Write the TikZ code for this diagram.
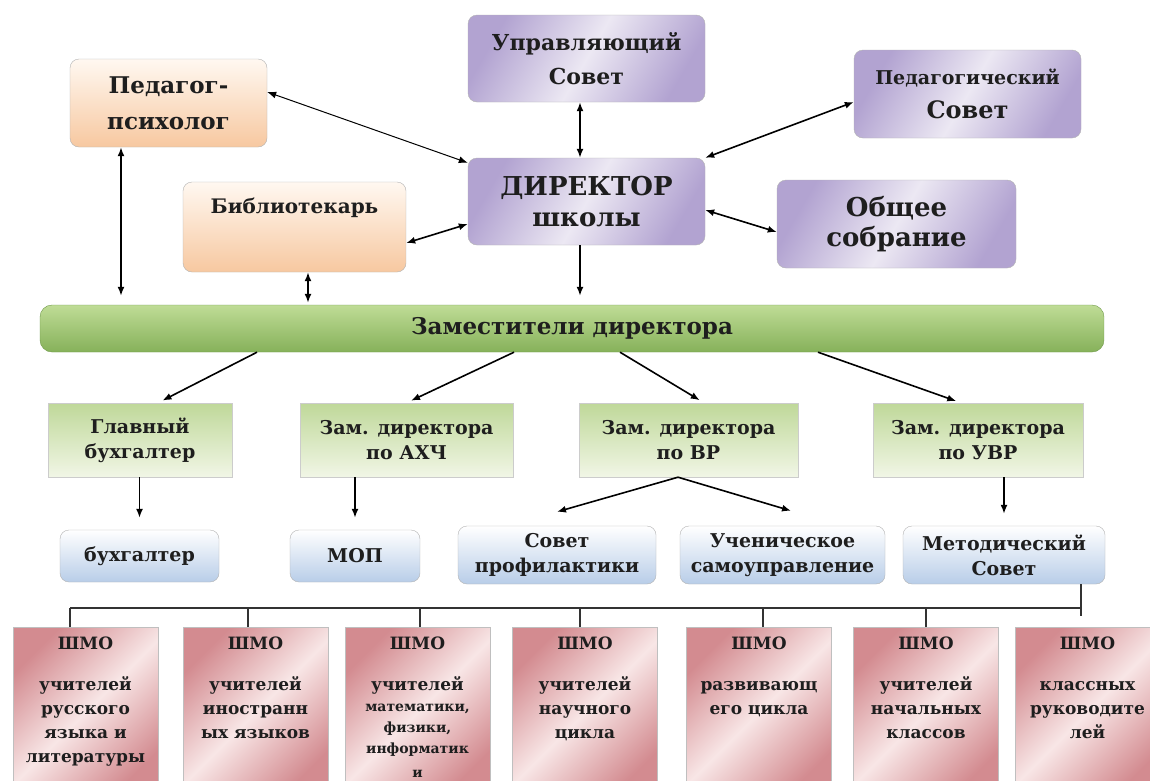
\documentclass[tikz,border=0pt]{standalone}
\usepackage{fontspec}
\setmainfont{DejaVu Serif}
\usepackage{tikz}
\usetikzlibrary{arrows.meta,backgrounds,calc}

\definecolor{peachtop}{HTML}{FFF8F1}
\definecolor{peachbot}{HTML}{F7C8A0}
\definecolor{lilaclight}{HTML}{ECE8F3}
\definecolor{lilacdark}{HTML}{B2A3D1}
\definecolor{leaftop}{HTML}{BFD899}
\definecolor{leafbot}{HTML}{F1F6E6}
\definecolor{bartop}{HTML}{BFDC96}
\definecolor{barbot}{HTML}{86B15A}
\definecolor{baredge}{HTML}{6E9848}
\definecolor{skybot}{HTML}{B8CDE8}
\definecolor{rose}{HTML}{D38B90}
\definecolor{roselight}{HTML}{F8E6E6}
\definecolor{ink}{HTML}{1E1E1E}

\newcommand{\shmo}[1]{\parbox[t][150pt][t]{140pt}{\centering ШМО\\[17pt]#1}}

\tikzset{
  box/.style={draw=black!30, rounded corners=9pt, inner sep=2pt, align=center, text=ink},
  orangebox/.style={box, top color=peachtop, bottom color=peachbot},
  purplebox/.style={box, left color=lilacdark, right color=lilacdark, middle color=lilaclight, shading angle=60},
  greenbox/.style={draw=black!20, inner sep=2pt, align=center, text=ink, minimum height=74pt,
    top color=leaftop, bottom color=leafbot, font=\bfseries\fontsize{19}{25}\selectfont},
  bluebox/.style={box, top color=white, bottom color=skybot, font=\bfseries\fontsize{19}{25}\selectfont},
  barbox/.style={draw=baredge, rounded corners=12pt, top color=bartop, bottom color=barbot, text=ink,
    font=\bfseries\fontsize{23}{25}\selectfont},
  pinkbox/.style={draw=black!25, anchor=north, inner xsep=2.5pt, inner ysep=10pt, text=ink,
    left color=rose, right color=rose, middle color=roselight, shading angle=45,
    font=\bfseries\fontsize{17}{24}\selectfont},
  link/.style={{Latex[length=9pt,width=7pt]}-{Latex[length=9pt,width=7pt]}, line width=1.6pt},
  feed/.style={-{Latex[length=9pt,width=7pt]}, line width=1.6pt},
  tree/.style={line width=1.3pt, black!80}
}

\begin{document}
\begin{tikzpicture}[x=1pt,y=-1pt]
\useasboundingbox (0,0) rectangle (1150,780);
\clip (0,0) rectangle (1150,780);
\fill[white] (0,0) rectangle (1150,780);

% administration
\node[orangebox, minimum width=197pt, minimum height=88pt, font=\bfseries\fontsize{23}{36}\selectfont] (psy) at (168.5,103) {Педагог-\\психолог};
\node[purplebox, minimum width=237pt, minimum height=87pt, font=\bfseries\fontsize{22}{34}\selectfont] (upr) at (586.5,58.5) {Управляющий\\Совет};
\node[purplebox, minimum width=227pt, minimum height=88pt, font=\bfseries\fontsize{24}{34}\selectfont] (ped) at (967.5,94) {{\fontsize{19}{34}\selectfont Педагогический}\\Совет};
\node[purplebox, minimum width=237pt, minimum height=87pt, font=\bfseries\fontsize{26}{31}\selectfont] (dir) at (586.5,201.5) {ДИРЕКТОР\\школы};
\node[orangebox, minimum width=223pt, minimum height=90pt, font=\bfseries\fontsize{20}{24}\selectfont] (bib) at (294.5,227) {Библиотекарь\\[18pt]\mbox{}};
\node[purplebox, minimum width=239pt, minimum height=88pt, font=\bfseries\fontsize{26}{30}\selectfont] (obs) at (896.5,224) {Общее\\собрание};

\node[barbox, minimum width=1064pt, minimum height=47pt] (zam) at (572,328.5) {Заместители директора};

% deputies
\node[greenbox, minimum width=184pt] (gb) at (140,440) {Главный\\бухгалтер};
\node[greenbox, minimum width=213pt] (ahch) at (406.5,440) {Зам. директора\\по АХЧ};
\node[greenbox, minimum width=219pt] (vr) at (688.5,440) {Зам. директора\\по ВР};
\node[greenbox, minimum width=210pt] (uvr) at (978,440) {Зам. директора\\по УВР};

\node[bluebox, minimum width=159pt, minimum height=52pt] (buh) at (139.5,556) {бухгалтер};
\node[bluebox, minimum width=130pt, minimum height=52pt] (mop) at (355,556) {МОП};
\node[bluebox, minimum width=198pt, minimum height=58pt] (sov) at (557,555) {Совет\\профилактики};
\node[bluebox, minimum width=205pt, minimum height=58pt] (uch) at (782.5,555) {Ученическое\\самоуправление};
\node[bluebox, minimum width=202pt, minimum height=58pt] (met) at (1004,555) {Методический\\Совет};

% method groups
\node[pinkbox] (s1) at (85.5,627) {\shmo{учителей\\русского\\языка и\\литературы}};
\node[pinkbox] (s2) at (255.5,627) {\shmo{учителей\\иностранн\\ых языков}};
\node[pinkbox] (s3) at (417.5,627) {\shmo{учителей\\{\fontsize{14}{21}\selectfont математики,\\физики,\\информатик\\и}}};
\node[pinkbox] (s4) at (585,627) {\shmo{учителей\\научного\\цикла}};
\node[pinkbox] (s5) at (759,627) {\shmo{развивающ\\его цикла}};
\node[pinkbox] (s6) at (926,627) {\shmo{учителей\\начальных\\классов}};
\node[pinkbox] (s7) at (1087.5,627) {\shmo{классных\\руководите\\лей}};

% arrows round the director
\draw[link, line width=1pt] ([yshift=11pt]psy.east) -- ([yshift=-5pt]dir.north west);
\draw[link] ([xshift=-6.5pt]upr.south) -- ([xshift=-6.5pt]dir.north);
\draw[link] ([yshift=-8pt]ped.west) -- (dir.north east);
\draw[link] ([yshift=-8pt]obs.west) -- ([yshift=-8.5pt]dir.east);
\draw[link] ([yshift=-16pt]bib.east) -- ([yshift=-22.5pt]dir.west);

\draw[link, shorten >=9pt] ([xshift=-47.5pt]psy.south) -- ([xshift=-451pt]zam.north);
\draw[link, shorten >=2pt] ([xshift=13.5pt]bib.south) -- ([xshift=-264pt]zam.north);
\draw[feed, shorten >=9pt] ([xshift=-6.5pt]dir.south) -- ([xshift=8pt]zam.north);

% from the bar
\draw[feed, shorten >=5pt] ([xshift=-315pt]zam.south) -- ([xshift=18pt]gb.north);
\draw[feed, shorten >=5pt] ([xshift=-58pt]zam.south) -- (ahch.north);
\draw[feed, shorten >=5pt] ([xshift=48pt]zam.south) -- ([xshift=15.5pt]vr.north);
\draw[feed, shorten >=5pt] ([xshift=246pt]zam.south) -- ([xshift=-17pt]uvr.north);

\draw[feed, shorten >=12pt] (gb.south -| buh.north) -- (buh.north);
\draw[feed, shorten >=12pt] (ahch.south -| mop.north) -- (mop.north);
\draw[feed, shorten >=12pt] (uvr.south -| met.north) -- (met.north);
\draw[feed] ([xshift=-10.5pt]vr.south) -- ([yshift=14pt]sov.north);
\draw[feed] ([xshift=-10.5pt]vr.south) -- ([xshift=8.5pt,yshift=15pt]uch.north);

% bus to the groups
\coordinate (busL) at (70,608);
\coordinate (busR) at (1081,608);
\coordinate (metdrop) at (1081,616);
\draw[tree] (busL) -- (busR);
\draw[tree] ([xshift=77pt]met.south) -- (metdrop);
\foreach \i/\dx in {1/-15.5,2/-7.5,3/2.5,4/-5,5/4,6/0}{
  \path ([xshift=\dx pt]s\i.north) coordinate (t\i);
  \draw[tree] (t\i) -- (t\i |- busL);
}
\end{tikzpicture}
\end{document}
